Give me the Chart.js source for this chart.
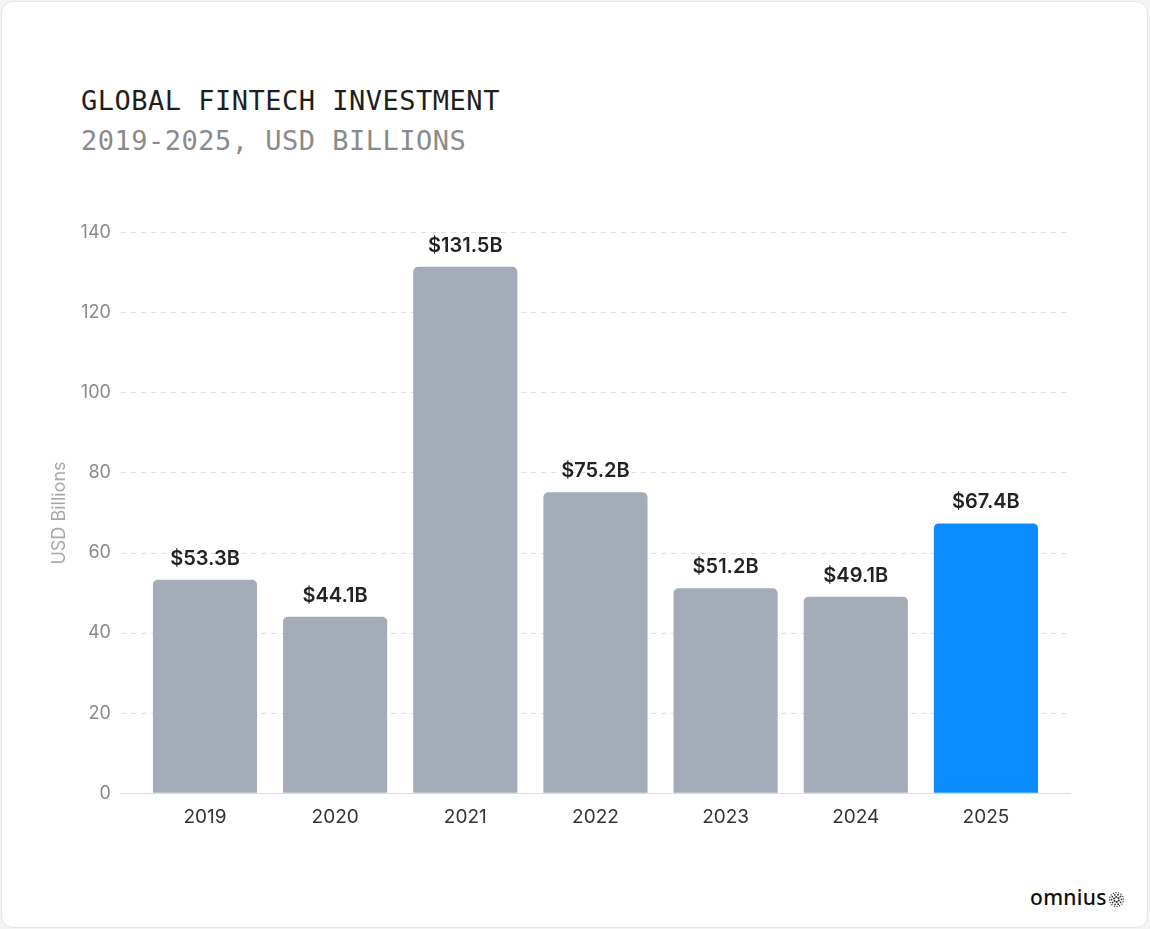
<!DOCTYPE html>
<html>
<head>
<meta charset="utf-8">
<script src="https://cdn.jsdelivr.net/npm/chart.js@4.4.1/dist/chart.umd.min.js"></script>
<style>
  html, body { margin: 0; padding: 0; background: #f4f4f4; }
  body { width: 1150px; height: 929px; position: relative; overflow: hidden; }
  .card {
    position: absolute; left: 1px; top: 1px; width: 1145px; height: 925px;
    background: #fff; border: 1px solid #e6e6e6; border-radius: 12px;
  }
  .title {
    position: absolute; left: 79px; top: 83px;
    font-family: "DejaVu Sans Mono", monospace; font-size: 27px; color: #1f1f1f;
    letter-spacing: 0.5px;
  }
  .subtitle {
    position: absolute; left: 79px; top: 123px;
    font-family: "DejaVu Sans Mono", monospace; font-size: 27px; color: #8a8a8a;
    letter-spacing: 0.5px;
  }
  .chartbox { position: absolute; left: 41px; top: 210px; width: 1050px; height: 622px; }
  .logo {
    position: absolute; left: 1028px; top: 881px;
    font-family: "Noto Sans", sans-serif; font-size: 21px; font-weight: 500; color: #111;
    letter-spacing: 0.3px; line-height: 28px;
  }
  .logo svg { vertical-align: -2px; margin-left: 2px; }
</style>
</head>
<body>
<div class="card">
  <div class="title">GLOBAL FINTECH INVESTMENT</div>
  <div class="subtitle">2019-2025, USD BILLIONS</div>
  <div class="chartbox"><canvas id="fintechChart"></canvas></div>
  <div class="logo">omnius<svg id="logoMark" width="15" height="15" viewBox="0 0 15 15"></svg></div>
</div>
<script>
const years = ['2019', '2020', '2021', '2022', '2023', '2024', '2025'];
const investment = [53.3, 44.1, 131.5, 75.2, 51.2, 49.1, 67.4];
const valueLabels = ['$53.3B', '$44.1B', '$131.5B', '$75.2B', '$51.2B', '$49.1B', '$67.4B'];

const greyBar = '#a3acb8';
const blueBar = '#0a8cff';

const valueLabelPlugin = {
  id: 'valueLabels',
  afterDatasetsDraw(chart) {
    const ctx = chart.ctx;
    const meta = chart.getDatasetMeta(0);
    ctx.save();
    ctx.font = '600 20px Inter, sans-serif';
    ctx.fillStyle = '#222';
    ctx.textAlign = 'center';
    ctx.textBaseline = 'bottom';
    meta.data.forEach((bar, i) => {
      ctx.fillText(valueLabels[i], bar.x, bar.y - 11);
    });
    ctx.restore();
  }
};

// little dotted-ring mark next to the logo text
function drawLogoMark() {
  const svg = document.getElementById('logoMark');
  let dots = '';
  [[2.5, 6, 1.1], [5, 10, 0.9], [7, 16, 0.7]].forEach(([r, n, s]) => {
    for (let k = 0; k < n; k++) {
      const a = (k / n) * Math.PI * 2 + r;
      dots += `<circle cx="${7.5 + r * Math.cos(a)}" cy="${7.5 + r * Math.sin(a)}" r="${s}" fill="#333"/>`;
    }
  });
  svg.innerHTML = dots;
}

function renderChart() {
  const ctx = document.getElementById('fintechChart').getContext('2d');
  new Chart(ctx, {
    type: 'bar',
    data: {
      datasets: [{
        data: investment.map((v, i) => ({ x: i, y: v })),
        backgroundColor: years.map((y, i) => i === years.length - 1 ? blueBar : greyBar),
        borderRadius: { topLeft: 5, topRight: 5 },
        borderSkipped: false,
        categoryPercentage: 1,
        barPercentage: 0.8
      }]
    },
    options: {
      responsive: true,
      maintainAspectRatio: false,
      animation: false,
      layout: { padding: { top: 5, right: 23, left: 6 } },
      plugins: {
        legend: { display: false },
        tooltip: { enabled: false }
      },
      scales: {
        x: {
          type: 'linear',
          min: -0.646,
          max: 6.646,
          offset: false,
          grid: { display: false },
          border: { color: '#dcdcdc', width: 1 },
          ticks: {
            stepSize: 1,
            includeBounds: false,
            autoSkip: false,
            maxRotation: 0,
            color: '#333',
            font: { family: 'Inter', size: 19 },
            padding: 5,
            callback: v => years[v] ?? ''
          }
        },
        y: {
          min: 0,
          max: 140,
          ticks: { stepSize: 20, color: '#8a8a8a', font: { family: 'Inter', size: 18 }, padding: 10 },
          border: { display: false, dash: [5, 5] },
          grid: { color: '#e0e0e0', drawTicks: false },
          title: {
            display: true, text: 'USD Billions', color: '#a8a8a8',
            font: { family: 'Inter', size: 18 }, padding: { top: 0, bottom: 0 }
          }
        }
      }
    },
    plugins: [valueLabelPlugin]
  });
}

document.addEventListener('DOMContentLoaded', () => {
  drawLogoMark();
  renderChart();
});
</script>
</body>
</html>
